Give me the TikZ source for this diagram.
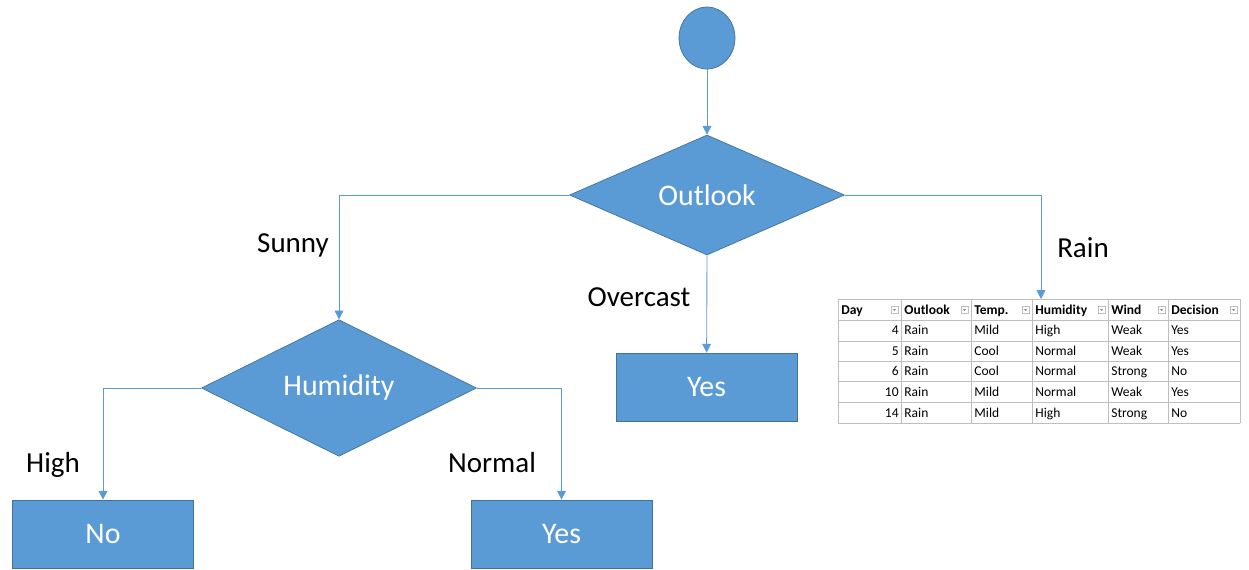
\documentclass[tikz,border=0pt]{standalone}
\usepackage{fontspec}
\setmainfont{Carlito}
\usetikzlibrary{shapes.geometric, arrows.meta}
\definecolor{boxblue}{HTML}{5B9BD5}
\definecolor{edgeblue}{HTML}{41719C}
\definecolor{gridgray}{HTML}{BFBFBF}

\begin{document}
\begin{tikzpicture}[x=0.02cm, y=-0.02cm,
    decision/.style={diamond, draw=edgeblue, fill=boxblue, text=white, inner sep=0pt,
      minimum width=5.5cm, minimum height=2.4cm, font=\fontsize{17}{20}\selectfont},
    leaf/.style={rectangle, draw=edgeblue, fill=boxblue, text=white, inner sep=0pt,
      minimum width=3.62cm, minimum height=1.36cm, font=\fontsize{17}{20}\selectfont},
    branch/.style={font=\fontsize{16.5}{20}\selectfont},
    link/.style={draw=boxblue, line width=0.5pt, -{Triangle[length=5pt,width=5pt]}},
    cell/.style={inner sep=0pt, anchor=base west, font=\fontsize{7.7}{9}\selectfont},
    headcell/.style={cell, font=\fontsize{7.7}{9}\selectfont\bfseries}]
  \useasboundingbox (0,0) rectangle (1249,569);

  % tree
  \node[ellipse, draw=edgeblue, fill=boxblue, minimum width=1.12cm, minimum height=1.24cm] (start) at (707,38) {};
  \node[decision] (outlook) at (707,195) {Outlook};
  \node[decision] (humidity) at (339,388) {Humidity};
  \node[leaf] (overyes) at (706.5,387) {Yes};
  \node[leaf] (highno) at (103,534) {No};
  \node[leaf] (normyes) at (561.5,534) {Yes};
  \coordinate (tabtop) at (1041,299);

  \draw[link] (start) -- (outlook);
  \draw[link] (outlook.west) -| (humidity.north);
  \draw[link] (outlook.south) -- (overyes);
  \draw[link] (outlook.east) -| (tabtop);
  \draw[link] (humidity.west) -| (highno);
  \draw[link] (humidity.east) -| (normyes);

  \node[branch] (lsunny) at (293,245) {Sunny};
  \node[branch] (lrain) at (1083,248) {Rain};
  \node[branch] (lover) at (639,297) {Overcast};
  \node[branch] (lhigh) at (53,465) {High};
  \node[branch] (lnormal) at (492,463) {Normal};

  % table for Rain
  \foreach \x in {838,901,971,1032,1108,1168,1240}
    \draw[gridgray] (\x,299) -- (\x,423);
  \foreach \y in {299,320,341,361,381,402,423}
    \draw[gridgray] (838,\y) -- (1240,\y);

  \foreach \x/\t [count=\i] in {838/Day,901/Outlook,971/Temp.,1032/Humidity,1108/Wind,1168/Decision}
    \node[headcell] (head\i) at (\x+3,314) {\t};
  \foreach \x in {901,971,1032,1108,1168,1240} {
    \draw[gridgray, fill=white] (\x-10,306) rectangle (\x-3,313);
    \fill[gray] (\x-8,309) -- (\x-5,309) -- (\x-6.5,311) -- cycle;
  }

  \foreach \d/\o/\t/\h/\w/\c [count=\r] in {4/Rain/Mild/High/Weak/Yes,
      5/Rain/Cool/Normal/Weak/Yes, 6/Rain/Cool/Normal/Strong/No,
      10/Rain/Mild/Normal/Weak/Yes, 14/Rain/Mild/High/Strong/No} {
    \pgfmathsetmacro\yy{314+20.6*\r}
    \node[cell, anchor=base east] (day\r) at (899,\yy) {\d};
    \node[cell] (out\r) at (904,\yy) {\o};
    \node[cell] (temp\r) at (974,\yy) {\t};
    \node[cell] (hum\r) at (1035,\yy) {\h};
    \node[cell] (wind\r) at (1111,\yy) {\w};
    \node[cell] (dec\r) at (1171,\yy) {\c};
  }
\end{tikzpicture}
\end{document}
